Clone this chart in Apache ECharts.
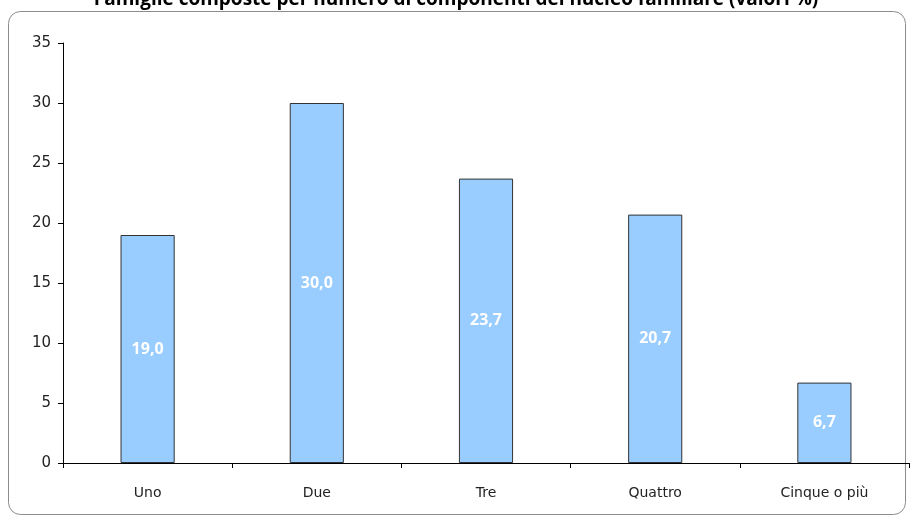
<!DOCTYPE html>
<html>
<head>
<meta charset="utf-8">
<script src="https://cdn.jsdelivr.net/npm/echarts@6/dist/echarts.min.js"></script>
<style>
  html, body { margin: 0; padding: 0; background: #fff; }
  #chart { width: 912px; height: 517px; }
</style>
</head>
<body>
<div id="chart"></div>
<script>
// Household size distribution (percentages)
const titleText = 'Famiglie composte per numero di componenti del nucleo familiare (valori %)';
const categories = ['Uno', 'Due', 'Tre', 'Quattro', 'Cinque o più'];
const values = [19.0, 30.0, 23.7, 20.7, 6.7];
const yTicks = [0, 5, 10, 15, 20, 25, 30, 35];

const chart = echarts.init(document.getElementById('chart'), null, { renderer: 'canvas' });

const fmt = v => v.toFixed(1).replace('.', ',');

chart.setOption({
  animation: false,
  backgroundColor: '#ffffff',
  title: {
    text: titleText,
    left: 'center',
    top: -15,
    textStyle: {
      fontFamily: 'Open Sans, sans-serif',
      fontSize: 19,
      fontWeight: 'bold',
      color: '#000'
    }
  },
  graphic: [{
    type: 'rect',
    shape: { x: 8.5, y: 11.5, width: 897, height: 503, r: 12 },
    style: { fill: 'none', stroke: '#8c8c8c', lineWidth: 1 },
    z: -1
  }],
  grid: { left: 63, right: 3, top: 43, bottom: 54, containLabel: false },
  xAxis: {
    type: 'category',
    data: categories,
    axisLine: { show: true, lineStyle: { color: '#000', width: 1 } },
    axisTick: { show: true, alignWithLabel: false, length: 5, lineStyle: { color: '#000' } },
    axisLabel: {
      margin: 23,
      fontFamily: 'DejaVu Sans, sans-serif',
      fontSize: 14,
      color: '#222'
    },
    splitLine: { show: false }
  },
  yAxis: {
    type: 'value',
    min: yTicks[0],
    max: yTicks[yTicks.length - 1],
    interval: yTicks[1] - yTicks[0],
    axisLine: { show: true, lineStyle: { color: '#000', width: 1 } },
    axisTick: { show: true, length: 5, lineStyle: { color: '#000' } },
    axisLabel: {
      margin: 12,
      fontFamily: 'DejaVu Sans, sans-serif',
      fontSize: 15,
      color: '#222'
    },
    splitLine: { show: false }
  },
  series: [{
    type: 'bar',
    data: values,
    barWidth: '32%',
    itemStyle: {
      color: '#99ccff',
      borderColor: '#333333',
      borderWidth: 1
    },
    label: {
      show: true,
      position: 'inside',
      formatter: p => fmt(p.value),
      color: '#ffffff',
      fontFamily: 'Open Sans, sans-serif',
      fontWeight: 'bold',
      fontSize: 16
    }
  }]
});
</script>
</body>
</html>
